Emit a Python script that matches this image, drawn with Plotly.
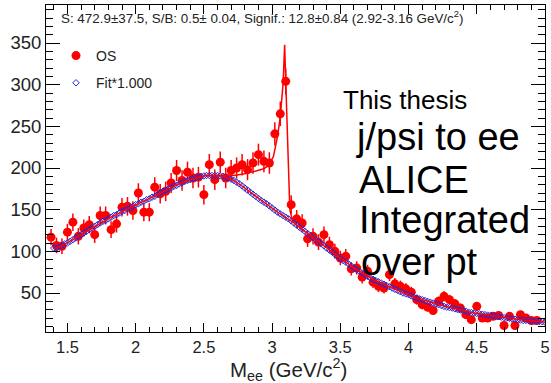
import plotly.graph_objects as go

# ---------------- data ----------------
bin_low = 1.36
bin_width = 0.04

os_counts = [117, 107, 106, 123, 135, 118, 128, 132, 120, 143,
             143, 126, 133, 153, 154, 149, 170, 147, 147, 177,
             169, 172, 182, 197, 185, 195, 188, 189, 168, 204,
             186, 207, 188, 197, 200, 204, 198, 206, 216, 208,
             206, 241, 265, 304, 156, 139, 134, 115, 118, 111,
             120, 108, 100, 92, 94, 79, 80, 69, 76, 63,
             58, 56, 72, 61, 58, 55, 51, 42, 36, 33,
             29, 40, 46, 42, 37, 32, 24, 18, 34, 20,
             20, 22, 23, 11, 22, 11, 24, 20, 17, 17]

os_errors = [9.7, 9.3, 9.3, 10.0, 10.5, 9.8, 10.2, 10.3, 9.9, 10.8,
             10.8, 10.1, 10.4, 11.1, 11.2, 11.0, 11.7, 10.9, 10.9, 12.0,
             11.7, 11.8, 12.1, 12.6, 12.2, 12.6, 12.3, 12.4, 11.7, 12.9,
             12.3, 12.9, 12.3, 12.6, 12.7, 12.9, 12.7, 12.9, 13.2, 13.0,
             12.9, 14.0, 14.7, 15.7, 11.2, 10.6, 10.4, 9.7, 9.8, 9.5,
             9.9, 9.4, 9.0, 8.6, 8.7, 8.0, 8.0, 7.5, 7.8, 7.1,
             6.9, 6.7, 7.6, 7.0, 6.9, 6.7, 6.4, 5.8, 5.4, 5.2,
             4.8, 5.7, 6.1, 5.8, 5.5, 5.1, 4.4, 3.8, 5.2, 4.0,
             4.0, 4.2, 4.3, 3.0, 4.2, 3.0, 4.4, 4.0, 3.7, 3.7]

mass_bins = [round(bin_low + bin_width * (i + 0.5), 3) for i in range(len(os_counts))]

# background fit (blue diamonds / red line), read every 0.02 GeV from 1.40 to 5.00
fit_start = 1.40
fit_step = 0.02
bkg_fit = [104, 104, 105, 107, 109, 110, 112, 114, 116, 118,
           120, 122, 124, 126, 128, 130, 132, 134, 136, 137,
           139, 141, 143, 144, 146, 148, 149, 151, 152, 154,
           156, 157, 159, 160, 162, 163, 165, 166, 168, 170,
           172, 173, 175, 176, 178, 179, 181, 182, 184, 185,
           186, 187, 188, 189, 190, 190.5, 191, 191, 191, 191,
           191, 190.5, 190, 189, 188, 186.5, 185, 183, 181, 178.5,
           176, 173.5, 171, 168.5, 166, 163.5, 161, 159, 157, 154.5,
           152, 149.5, 147, 145, 143, 141, 139, 136.5, 134, 131.5,
           129, 126.5, 124, 121.5, 119, 116.5, 114, 111.5, 109, 106.5,
           104, 101.5, 99, 96.5, 94, 91.5, 89, 87, 85, 82.5,
           80, 78, 76, 74, 72, 70, 68, 66.5, 65, 63.5,
           62, 60.5, 59, 57.5, 56, 54.5, 53, 51.5, 50, 49,
           48, 46.5, 45, 44, 43, 42, 41, 40, 39, 38,
           37, 36, 35, 34, 33, 32.5, 32, 31, 30, 29.5,
           29, 28, 27, 26.5, 26, 25.5, 25, 24.5, 24, 23.5,
           23, 22.5, 22, 21.5, 21, 20.5, 20, 19.5, 19, 18.5,
           18, 17.5, 17, 17, 17, 16.5, 16, 16, 16, 15.5,
           15]
fit_mass = [round(fit_start + fit_step * k, 3) for k in range(len(bkg_fit))]

# total fit (signal + background) around the J/psi peak
total_mass = [2.56, 2.64, 2.72, 2.80, 2.88, 2.94, 2.98, 3.01, 3.04, 3.06,
              3.08, 3.092, 3.10, 3.115, 3.13, 3.15]
total_fit = [191, 191, 191, 193, 196, 199, 204, 214, 238, 262,
             300, 348, 304, 220, 150, 136]

x_ticks = [1.5, 2, 2.5, 3, 3.5, 4, 4.5, 5]
y_ticks = [50, 100, 150, 200, 250, 300, 350]

stat_text = "S: 472.9±37.5, S/B: 0.5± 0.04, Signif.: 12.8±0.84 (2.92-3.16 GeV/c<sup>2</sup>)"
x_title = "M<sub>ee</sub> (GeV/c<sup>2</sup>)"

# ---------------- figure ----------------
RED = "#ff0000"
BLUE = "rgb(40,40,215)"

fig = go.Figure()

fig.add_trace(go.Scatter(
    x=mass_bins, y=os_counts, mode="markers", name="OS",
    marker=dict(symbol="circle", size=9, color=RED),
    error_y=dict(type="data", array=os_errors, color=RED, thickness=1.5, width=0),
    legendgroup="os", legendrank=1, hoverinfo="skip"))

fig.add_trace(go.Scatter(
    x=fit_mass, y=bkg_fit, mode="markers", name="Fit*1.000",
    marker=dict(symbol="diamond-open", size=5, color=BLUE, line=dict(width=1, color=BLUE)),
    legendgroup="fit", legendrank=2, hoverinfo="skip"))

fig.add_trace(go.Scatter(
    x=fit_mass, y=bkg_fit, mode="lines", showlegend=False,
    line=dict(color=RED, width=1.5), hoverinfo="skip"))

fig.add_trace(go.Scatter(
    x=total_mass, y=total_fit, mode="lines", showlegend=False,
    line=dict(color=RED, width=1.5), hoverinfo="skip"))

W, H = 551, 383
L, R, T, B = 46, 6, 5, 51
pw, ph = W - L - R, H - T - B


def px(xp):
    return (xp - L) / pw


def py(yp):
    return (H - B - yp) / ph


annos = [
    dict(text=stat_text, x=px(59), y=py(17), size=13.4, color="#222"),
    dict(text="This thesis", x=px(341), y=py(100), size=26, color="black"),
    dict(text="j/psi to ee", x=px(354), y=py(137), size=38, color="black"),
    dict(text="ALICE", x=px(357), y=py(180), size=38, color="black"),
    dict(text="Integrated", x=px(357), y=py(220), size=38, color="black"),
    dict(text="over pt", x=px(359), y=py(262), size=38, color="black"),
]
for a in annos:
    fig.add_annotation(text=a["text"], x=a["x"], y=a["y"], xref="paper", yref="paper",
                       xanchor="left", yanchor="middle", showarrow=False,
                       font=dict(size=a["size"], color=a["color"]))

fig.add_annotation(text=x_title, x=px(288), y=py(369), xref="paper", yref="paper",
                   xanchor="center", yanchor="middle", showarrow=False, borderpad=0,
                   font=dict(size=20.5, color="#222"))

axis_common = dict(showline=True, linecolor="black", linewidth=1, mirror="allticks",
                   ticks="inside", tickcolor="black", tickwidth=1, showgrid=False,
                   zeroline=False, automargin=False)

fig.update_layout(
    width=W, height=H,
    margin=dict(l=L, r=R, t=T, b=B, pad=0, autoexpand=False),
    paper_bgcolor="white", plot_bgcolor="white",
    font=dict(family="Liberation Sans, Arial, sans-serif", color="#222"),
    xaxis=dict(range=[1.343, 5.0], tickvals=x_ticks, ticktext=[str(v) for v in x_ticks],
               ticklen=9, tickfont=dict(size=16.5, color="#222"),
               minor=dict(dtick=0.1, tick0=1.5, ticks="inside", ticklen=5,
                          tickcolor="black", showgrid=False),
               **axis_common),
    yaxis=dict(range=[3.2, 395.6], tickvals=y_ticks, ticklen=14,
               tickfont=dict(size=18.5, color="#222"),
               minor=dict(dtick=10, tick0=0, ticks="inside", ticklen=7,
                          tickcolor="black", showgrid=False),
               **axis_common),
    legend=dict(x=px(56), y=py(40), xanchor="left", yanchor="top",
                bgcolor="rgba(0,0,0,0)", borderwidth=0, traceorder="grouped",
                font=dict(size=14, color="#222"), tracegroupgap=6),
    showlegend=True,
)

fig.write_html("out.html",
               config={"displayModeBar": False},
               post_script="document.body.style.margin='0';document.body.style.overflow='hidden';")
